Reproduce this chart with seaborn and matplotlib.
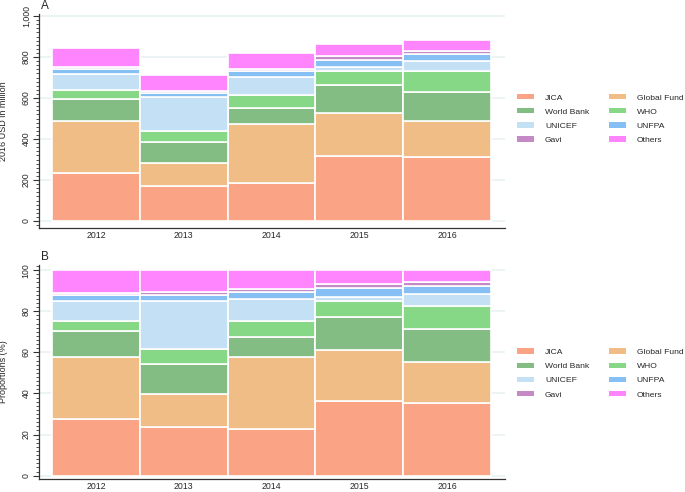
import numpy as np
import pandas as pd
import matplotlib
matplotlib.use("Agg")
import matplotlib.pyplot as plt
from matplotlib.patches import Patch
from matplotlib.ticker import MultipleLocator, FuncFormatter
import seaborn as sns

# Dados (USD 2016, milhões)
years = ["2012", "2013", "2014", "2015", "2016"]
jica = [232, 170, 187, 316, 313]
global_fund = [258, 114, 285, 211, 176]
world_bank = [105, 103, 80, 139, 142]
who = [43, 50, 65, 68, 99]
unicef = [79, 167, 87, 18, 50]
unfpa = [26, 21, 29, 36, 35]
gavi = [9, 11, 8, 16, 16]
others = [94, 75, 77, 60, 53]

donors = ["JICA", "Global Fund", "World Bank", "WHO", "UNICEF", "UNFPA", "Gavi", "Others"]
colors = ["#fba385", "#efbd85", "#84bd84", "#86d886", "#c3e0f4", "#85bff4", "#c58ac5", "#ff85ff"]

df = pd.DataFrame({"year": years, "JICA": jica, "Global Fund": global_fund,
                   "World Bank": world_bank, "WHO": who, "UNICEF": unicef,
                   "UNFPA": unfpa, "Gavi": gavi, "Others": others})
pct = df[donors].div(df[donors].sum(axis=1), axis=0) * 100
pct["year"] = df["year"]

sns.set_style("white")
plt.rcParams["font.family"] = ["Liberation Sans", "DejaVu Sans"]

fig = plt.figure(figsize=(6.85, 4.92), dpi=100)
axA = fig.add_axes([39 / 685, 1 - 228 / 492, 466 / 685, 214 / 492])
axB = fig.add_axes([39 / 685, 1 - 479 / 492, 466 / 685, 214 / 492])


def stacked(ax, data):
    bottom = np.zeros(len(data))
    for name, col in zip(donors, colors):
        sns.barplot(data=data, x="year", y=name, color=col, width=1,
                    bottom=bottom, edgecolor="white", linewidth=1.2,
                    saturation=1, ax=ax)
        bottom = bottom + data[name].values
    ax.set_xlabel("")
    ax.set_xlim(-0.65, 4.66)
    for s in ["top", "right"]:
        ax.spines[s].set_visible(False)
    for s in ["left", "bottom"]:
        ax.spines[s].set_color("#333333")
        ax.spines[s].set_linewidth(0.9)
    ax.tick_params(axis="y", which="major", length=4, width=0.8, labelsize=6.3,
                   labelrotation=90, left=True, direction="out", color="#333333", pad=2)
    ax.tick_params(axis="y", which="minor", length=2, width=0.6, left=True,
                   direction="out", color="#333333")
    ax.tick_params(axis="x", length=0, labelsize=6.3, pad=2)
    ax.grid(axis="y", color="#eaf2f3", linewidth=1.2)
    ax.set_axisbelow(True)


stacked(axA, df)
axA.set_ylim(-34, 1010)
axA.yaxis.set_major_locator(MultipleLocator(200))
axA.yaxis.set_minor_locator(MultipleLocator(20))
axA.yaxis.set_major_formatter(FuncFormatter(lambda v, p: f"{int(v):,}"))
axA.set_ylabel("2016 USD in million", fontsize=6.5)
axA.yaxis.set_label_coords(-31 / 466, 0.5)
for lab in axA.get_yticklabels():
    lab.set_va("center")

stacked(axB, pct)
axB.set_ylim(-1.6, 102.5)
axB.yaxis.set_major_locator(MultipleLocator(20))
axB.yaxis.set_minor_locator(MultipleLocator(2))
axB.set_ylabel("Proportions (%)", fontsize=6.5)
axB.yaxis.set_label_coords(-31 / 466, 0.5)
for lab in axB.get_yticklabels():
    lab.set_va("center")

fig.text(41 / 685, 1 - 6 / 492, "A", fontsize=8.5, va="center", ha="left")
fig.text(41 / 685, 1 - 257 / 492, "B", fontsize=8.5, va="center", ha="left")

# Legendas (ordem por linhas)
handles = [Patch(facecolor=c, edgecolor="none") for c in colors]
order = [0, 2, 4, 6, 1, 3, 5, 7]
h = [handles[i] for i in order]
l = [donors[i] for i in order]
for yc in (119, 373.5):
    fig.legend(h, l, ncol=2, loc="center left",
               bbox_to_anchor=(511 / 685, 1 - yc / 492), frameon=False,
               fontsize=6.1, handlelength=2.0, handleheight=0.6,
               columnspacing=2.3, labelspacing=0.76, handletextpad=1.3,
               borderpad=0.2)

fig.savefig("out.png", dpi=100)
